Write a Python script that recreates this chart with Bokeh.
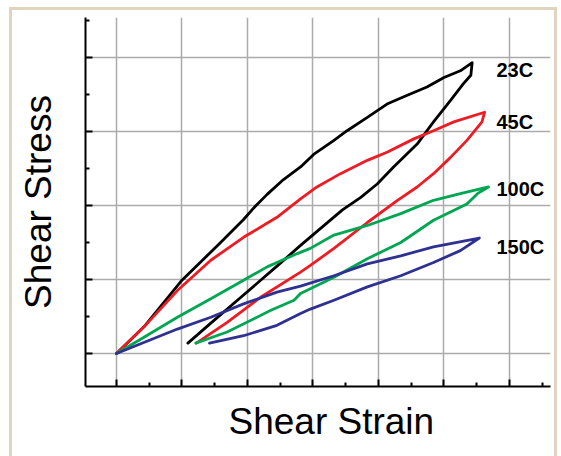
from bokeh.plotting import figure
from bokeh.models import FixedTicker, Title, ColumnDataSource, CustomJSTickFormatter
from bokeh.core.properties import value
from bokeh.embed import file_html
from bokeh.resources import INLINE

# ---------------- data ----------------
temps = ["23C", "45C", "100C", "150C"]
colors = ["#000000", "#ED1C24", "#00A651", "#2E3192"]

# 23C loop
c23_load_x = [0, 0.42, 1.00, 1.59, 1.94, 2.12, 2.30, 2.55, 2.81, 3.01, 3.32, 3.52, 3.83, 4.13, 4.44, 4.74, 5.00, 5.25, 5.43]
c23_load_y = [0, 0.36, 0.99, 1.50, 1.81, 1.99, 2.15, 2.35, 2.52, 2.69, 2.88, 3.01, 3.19, 3.37, 3.49, 3.60, 3.73, 3.82, 3.93]
c23_unload_x = [5.41, 5.30, 5.10, 4.84, 4.59, 4.23, 3.98, 3.73, 3.45, 2.81, 2.45, 1.94, 1.44, 1.09]
c23_unload_y = [3.76, 3.65, 3.42, 3.13, 2.83, 2.52, 2.29, 2.11, 1.94, 1.46, 1.18, 0.79, 0.41, 0.14]

# 45C loop
c45_load_x = [0, 0.42, 0.93, 1.44, 1.94, 2.45, 2.81, 3.06, 3.42, 3.83, 4.13, 4.54, 4.84, 5.15, 5.62]
c45_load_y = [0, 0.36, 0.85, 1.26, 1.57, 1.84, 2.09, 2.25, 2.43, 2.61, 2.72, 2.90, 3.01, 3.13, 3.26]
c45_unload_x = [5.58, 5.35, 5.10, 4.84, 4.59, 4.29, 3.83, 3.32, 2.96, 2.81, 2.20, 1.69, 1.22]
c45_unload_y = [3.13, 2.88, 2.65, 2.43, 2.25, 2.07, 1.77, 1.42, 1.19, 1.10, 0.76, 0.42, 0.14]

# 100C loop
c100_load_x = [0, 0.42, 0.93, 1.44, 1.94, 2.30, 2.76, 2.96, 3.32, 3.83, 4.34, 4.84, 5.25, 5.68]
c100_load_y = [0, 0.22, 0.49, 0.74, 0.99, 1.17, 1.35, 1.42, 1.60, 1.73, 1.89, 2.07, 2.16, 2.25]
c100_unload_x = [5.51, 5.35, 4.84, 4.34, 3.83, 3.32, 2.81, 2.71, 2.35, 1.69, 1.21]
c100_unload_y = [2.16, 2.02, 1.80, 1.50, 1.28, 1.03, 0.81, 0.72, 0.58, 0.29, 0.14]

# 150C loop
c150_load_x = [0, 0.93, 1.44, 1.94, 2.45, 2.81, 3.32, 3.83, 4.34, 4.84, 5.54]
c150_load_y = [0, 0.33, 0.49, 0.67, 0.83, 0.91, 1.05, 1.21, 1.32, 1.44, 1.56]
c150_unload_x = [5.25, 4.84, 4.34, 3.83, 3.32, 2.96, 2.81, 2.45, 1.94, 1.42]
c150_unload_y = [1.39, 1.23, 1.05, 0.90, 0.72, 0.60, 0.54, 0.38, 0.24, 0.14]

x_ticks = [0, 1, 2, 3, 4, 5, 6]
x_minor = [0.5, 1.5, 2.5, 3.5, 4.5, 5.5, 6.5]
y_ticks = [0, 1, 2, 3, 4]
y_minor = [0.5, 1.5, 2.5, 3.5, 4.5]

x_title = "Shear Strain"
y_title = "Shear Stress"

# label placement (layout)
LABEL_X = 5.80
LABEL_Y = [3.824, 3.122, 2.223, 1.439]

loops = [
    (c23_load_x + c23_unload_x, c23_load_y + c23_unload_y),
    (c45_load_x + c45_unload_x, c45_load_y + c45_unload_y),
    (c100_load_x + c100_unload_x, c100_load_y + c100_unload_y),
    (c150_load_x + c150_unload_x, c150_load_y + c150_unload_y),
]

BEIGE = "#E0D4BE"
bar = f"linear-gradient({BEIGE},{BEIGE})"
frame_css = {
    "background": (f"{bar} 9px 7px / 3px 460px no-repeat, "
                   f"{bar} 9px 7px / 548px 3px no-repeat, "
                   f"{bar} 554px 7px / 3px 460px no-repeat, white"),
}

# ---------------- figure ----------------
p = figure(width=561, height=456, x_range=(-0.473, 6.626), y_range=(-0.446, 4.54),
           output_backend="svg", toolbar_location=None,
           min_border_left=85, min_border_right=11, min_border_top=17, min_border_bottom=70)
p.outline_line_color = None
p.background_fill_color = None
p.border_fill_color = None
p.styles = frame_css

blank = CustomJSTickFormatter(code="return ''")
for ax, ticks, minor in ((p.xaxis[0], x_ticks, x_minor), (p.yaxis[0], y_ticks, y_minor)):
    ax.ticker = FixedTicker(ticks=ticks, minor_ticks=minor)
    ax.formatter = blank
    ax.axis_line_color = "black"
    ax.axis_line_width = 2
    ax.major_tick_in = 7
    ax.major_tick_out = 0
    ax.minor_tick_in = 4
    ax.minor_tick_out = 0
    ax.major_tick_line_width = 2
    ax.minor_tick_line_width = 2
    ax.major_tick_line_color = "black"
    ax.minor_tick_line_color = "black"
    ax.major_label_standoff = 0

p.yaxis[0].axis_label = y_title
p.yaxis[0].axis_label_text_font = "Liberation Sans"
p.yaxis[0].axis_label_text_font_size = "37px"
p.yaxis[0].axis_label_text_font_style = "normal"
p.yaxis[0].axis_label_text_color = "black"
p.yaxis[0].axis_label_standoff = 27

p.add_layout(Title(text=x_title, align="left", offset=143, standoff=25, vertical_align="bottom",
                   text_font="Liberation Sans", text_font_size="37px",
                   text_font_style="normal", text_color="black"), "below")

p.xgrid.grid_line_color = "#ABABAB"
p.ygrid.grid_line_color = "#ABABAB"
p.xgrid.grid_line_width = 1.5
p.ygrid.grid_line_width = 1.5

for (lx, ly), col in zip(loops, colors):
    p.line(lx, ly, line_color=col, line_width=2.8, line_join="round", line_cap="round")

src = ColumnDataSource(dict(x=[LABEL_X] * 4, y=LABEL_Y, t=temps))
p.text(x="x", y="y", text="t", source=src, text_font=value("Liberation Sans"),
       text_font_size="20px", text_font_style="bold", text_color="black",
       text_baseline="alphabetic", text_align="left")

open("out.html", "w").write(file_html(p, INLINE))
